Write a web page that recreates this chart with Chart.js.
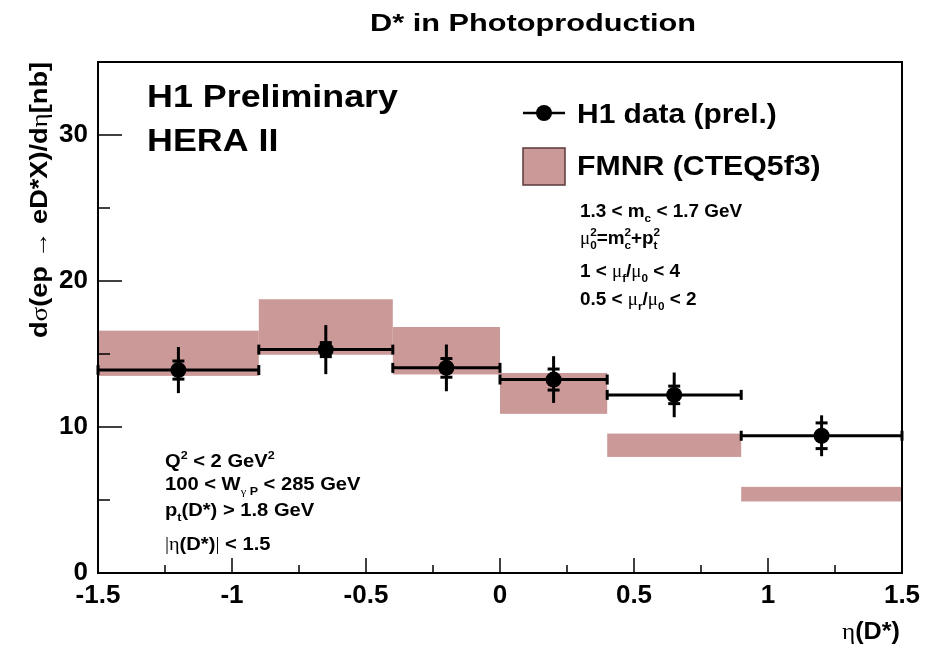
<!DOCTYPE html>
<html>
<head>
<meta charset="utf-8">
<script src="https://cdn.jsdelivr.net/npm/chart.js@4.4.1/dist/chart.umd.min.js"></script>
<style>
  html, body { margin: 0; padding: 0; background: #fff; }
  canvas { display: block; }
</style>
</head>
<body>
<canvas id="chart" width="933" height="645"></canvas>
<script>
// eta(D*) bins and H1 measurement
const binEdges = [-1.5, -0.9, -0.4, 0, 0.4, 0.9, 1.5];
const etaPoints = [-1.2, -0.65, -0.2, 0.2, 0.65, 1.2];
const h1Sigma = [13.9, 15.3, 14.05, 13.25, 12.2, 9.4];
const statErr = [0.62, 0.48, 0.64, 0.72, 0.6, 0.88];
const totErr = [1.58, 1.68, 1.6, 1.6, 1.53, 1.4];

// FMNR (CTEQ5f3) band per bin
const fmnrLow = [13.5, 14.95, 13.6, 10.9, 7.95, 4.9];
const fmnrHigh = [16.6, 18.75, 16.85, 13.7, 9.55, 5.9];

const xTicks = [-1.5, -1, -0.5, 0, 0.5, 1, 1.5];
const yTicks = [0, 10, 20, 30];

const seriesNames = ['H1 data (prel.)', 'FMNR (CTEQ5f3)'];
const fmnrColor = '#cc9999';

// rich text: segments {t, g: greek/serif, s: 'sub'|'sup', stay: don't advance}
function segFont(seg, size) {
  const sz = seg.s ? size * 0.62 : size;
  return seg.g ? `${sz}px "Liberation Serif"` : `bold ${sz}px "Liberation Sans"`;
}

function richText(ctx, segs, x, y, size, sx = 1, align = 'left', rot = 0) {
  ctx.save();
  ctx.translate(x, y);
  ctx.rotate(rot);
  ctx.scale(sx, 1);
  let w = 0;
  segs.forEach(s => {
    ctx.font = segFont(s, size);
    if (!s.stay) w += ctx.measureText(s.t).width;
  });
  let cx = align === 'right' ? -w : align === 'center' ? -w / 2 : 0;
  ctx.fillStyle = '#000';
  ctx.textBaseline = 'alphabetic';
  ctx.textAlign = 'left';
  segs.forEach(s => {
    ctx.font = segFont(s, size);
    const dy = s.s === 'sub' ? size * 0.3 : s.s === 'sup' ? -size * 0.42 : 0;
    ctx.fillText(s.t, cx, dy);
    if (!s.stay) cx += ctx.measureText(s.t).width;
  });
  ctx.restore();
}

const theoryLines = [
  [{t: '1.3 < m'}, {t: 'c', s: 'sub'}, {t: ' < 1.7 GeV'}],
  [{t: 'μ', g: 1}, {t: '0', s: 'sub', stay: 1}, {t: '2', s: 'sup'}, {t: '=m'}, {t: 'c', s: 'sub', stay: 1},
   {t: '2', s: 'sup'}, {t: '+p'}, {t: 't', s: 'sub', stay: 1}, {t: '2', s: 'sup'}],
  [{t: '1 < '}, {t: 'μ', g: 1}, {t: 'f', s: 'sub'}, {t: '/'}, {t: 'μ', g: 1}, {t: '0', s: 'sub'}, {t: ' < 4'}],
  [{t: '0.5 < '}, {t: 'μ', g: 1}, {t: 'r', s: 'sub'}, {t: '/'}, {t: 'μ', g: 1}, {t: '0', s: 'sub'}, {t: ' < 2'}]
];

const cutLines = [
  [{t: 'Q'}, {t: '2', s: 'sup'}, {t: ' < 2 GeV'}, {t: '2', s: 'sup'}],
  [{t: '100 < W'}, {t: 'γ', g: 1, s: 'sub'}, {t: ' P', s: 'sub'}, {t: ' < 285 GeV'}],
  [{t: 'p'}, {t: 't', s: 'sub'}, {t: '(D*) > 1.8 GeV'}],
  [{t: '|', g: 1}, {t: 'η', g: 1}, {t: '(D*)'}, {t: '|', g: 1}, {t: ' < 1.5'}]
];

const yTitle = [{t: 'd'}, {t: 'σ', g: 1}, {t: '(ep '}, {t: '→', g: 1}, {t: ' eD*X)/d'}, {t: 'η', g: 1}, {t: '[nb]'}];
const xTitle = [{t: 'η', g: 1}, {t: '(D*)'}];

const h1Extras = {
  id: 'h1Extras',
  beforeDatasetsDraw(chart) {
    const { ctx, scales: { x, y } } = chart;
    const line = (a, b, c, d) => { ctx.beginPath(); ctx.moveTo(a, b); ctx.lineTo(c, d); ctx.stroke(); };
    ctx.save();
    // theory band
    ctx.fillStyle = fmnrColor;
    fmnrLow.forEach((lo, i) => {
      const x0 = x.getPixelForValue(binEdges[i]);
      const x1 = x.getPixelForValue(binEdges[i + 1]);
      const y0 = y.getPixelForValue(fmnrHigh[i]);
      const y1 = y.getPixelForValue(lo);
      ctx.fillRect(x0, y0, x1 - x0, y1 - y0);
    });
    // error bars
    ctx.strokeStyle = '#000';
    ctx.lineWidth = 3;
    h1Sigma.forEach((v, i) => {
      const xl = x.getPixelForValue(binEdges[i]);
      const xr = x.getPixelForValue(binEdges[i + 1]);
      const xc = x.getPixelForValue(etaPoints[i]);
      const yc = y.getPixelForValue(v);
      line(xl, yc, xr, yc);
      line(xl, yc - 5, xl, yc + 5);
      line(xr, yc - 5, xr, yc + 5);
      line(xc, y.getPixelForValue(v + totErr[i]), xc, y.getPixelForValue(v - totErr[i]));
      [v + statErr[i], v - statErr[i]].forEach(s => {
        const ys = y.getPixelForValue(s);
        line(xc - 6, ys, xc + 6, ys);
      });
    });
    ctx.restore();
  },
  afterDraw(chart) {
    const { ctx, chartArea: a, scales: { x, y } } = chart;
    const line = (p, q, r, s) => { ctx.beginPath(); ctx.moveTo(p, q); ctx.lineTo(r, s); ctx.stroke(); };
    ctx.save();
    ctx.strokeStyle = '#000';
    // frame
    ctx.lineWidth = 2;
    ctx.strokeRect(a.left, a.top, a.right - a.left, a.bottom - a.top);
    // ticks inside the frame
    ctx.lineWidth = 1.5;
    for (let v = -1.5; v <= 1.5001; v += 0.25) {
      const px = x.getPixelForValue(v);
      const major = Math.abs(v * 2 - Math.round(v * 2)) < 1e-6;
      line(px, a.bottom, px, a.bottom - (major ? 15 : 8));
    }
    for (let v = 0; v <= 35.001; v += 5) {
      const py = y.getPixelForValue(v);
      line(a.left, py, a.left + (v % 10 === 0 ? 24 : 12), py);
    }

    // titles
    richText(ctx, [{t: 'D* in Photoproduction'}], 533, 31, 24, 1.28, 'center');
    richText(ctx, yTitle, 47, 62, 23, 1.18, 'right', -Math.PI / 2);
    richText(ctx, xTitle, 900, 639, 24, 1.05, 'right');
    richText(ctx, [{t: 'H1 Preliminary'}], 147, 107, 32, 1.12);
    richText(ctx, [{t: 'HERA II'}], 147, 151, 32, 1.12);

    // legend
    ctx.lineWidth = 2.5;
    line(523, 113, 565, 113);
    ctx.fillStyle = '#000';
    ctx.beginPath();
    ctx.arc(544, 113, 8, 0, Math.PI * 2);
    ctx.fill();
    ctx.fillStyle = fmnrColor;
    ctx.fillRect(523, 148, 42, 37);
    ctx.strokeStyle = '#5a3a3a';
    ctx.lineWidth = 1.5;
    ctx.strokeRect(523, 148, 42, 37);
    richText(ctx, [{t: seriesNames[0]}], 577, 123, 28, 1.07);
    richText(ctx, [{t: seriesNames[1]}], 577, 175, 28, 1.08);

    // annotations
    [217, 244, 277, 305].forEach((by, i) => richText(ctx, theoryLines[i], 580, by, 18, 1.05));
    [467, 490, 516, 550].forEach((by, i) => richText(ctx, cutLines[i], 165, by, 18, 1.12));
    ctx.restore();
  }
};

const ctx = document.getElementById('chart').getContext('2d');

new Chart(ctx, {
  type: 'scatter',
  data: {
    datasets: [{
      label: seriesNames[0],
      data: etaPoints.map((e, i) => ({ x: e, y: h1Sigma[i] })),
      backgroundColor: '#000',
      borderWidth: 0,
      pointRadius: 8,
      pointHoverRadius: 8
    }]
  },
  options: {
    responsive: false,
    animation: false,
    events: [],
    layout: { padding: { left: 0, right: 31, top: 62, bottom: 0 } },
    plugins: {
      legend: { display: false },
      title: { display: false },
      tooltip: { enabled: false }
    },
    scales: {
      x: {
        type: 'linear',
        min: xTicks[0],
        max: xTicks[xTicks.length - 1],
        grid: { display: false, drawTicks: false },
        border: { display: false },
        afterBuildTicks: s => { s.ticks = xTicks.map(v => ({ value: v })); },
        afterFit: s => { s.height = 72; },
        ticks: {
          color: '#000',
          padding: 7,
          maxRotation: 0,
          callback: v => String(v),
          font: { family: 'Liberation Sans', weight: 'bold', size: 26 }
        }
      },
      y: {
        type: 'linear',
        min: 0,
        max: 35,
        grid: { display: false, drawTicks: false },
        border: { display: false },
        afterBuildTicks: s => { s.ticks = yTicks.map(v => ({ value: v })); },
        afterFit: s => { s.width = 98; },
        ticks: {
          color: '#000',
          padding: 10,
          callback: v => String(v),
          font: { family: 'Liberation Sans', weight: 'bold', size: 26 }
        }
      }
    }
  },
  plugins: [h1Extras]
});
</script>
</body>
</html>
